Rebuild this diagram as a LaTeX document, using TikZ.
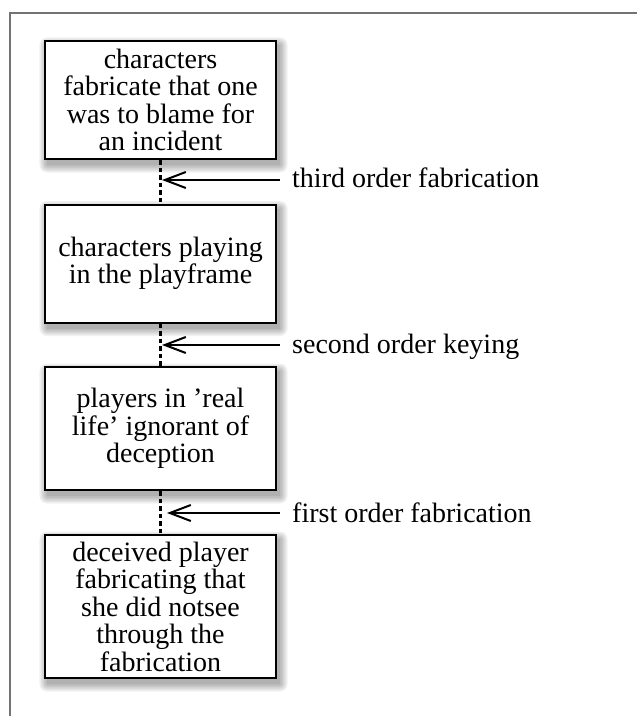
\documentclass[tikz,border=0pt]{standalone}
\usepackage{fontspec}
\setmainfont{Liberation Serif}
\usetikzlibrary{arrows.meta,backgrounds}
\begin{document}
\begin{tikzpicture}[x=1bp,y=-1bp,
  box/.style={draw=black, line width=2bp, fill=white, align=center, minimum width=231bp, inner sep=0pt, font=\fontsize{28bp}{27.5bp}\selectfont},
  lbl/.style={anchor=base west, inner xsep=12bp, inner ysep=0pt, font=\fontsize{28bp}{27.5bp}\selectfont},
  link/.style={line width=2.2bp, dash pattern=on 4.5bp off 3bp},
  pointer/.style={line width=2bp, -{Straight Barb[length=21bp,width=16bp,line width=2bp]}},
  frameline/.style={draw=black!55, line width=2bp}]
\useasboundingbox (0,0) rectangle (637,716);
\draw[frameline] (10,717) -- (10,13) -- (638,13);

\node[box, minimum height=118bp] (b1) at (160.5,100) {characters\\fabricate that one\\was to blame for\\an incident};
\node[box, minimum height=118bp] (b2) at (160.5,263.5) {characters playing\\in the playframe};
\node[box, minimum height=123bp] (b3) at (160.5,428.5) {players in ’real\\life’ ignorant of\\deception};
\node[box, minimum height=143bp] (b4) at (160.5,606.5) {deceived player\\fabricating that\\she did notsee\\through the\\fabrication};

\draw[link] (b1.south) -- (b2.north);
\draw[link] (b2.south) -- (b3.north);
\draw[link] (b3.south) -- (b4.north);

\coordinate (t3) at (162,180);
\coordinate (t2) at (162,345);
\coordinate (t1) at (167,513);
\node[lbl] (l3) at (280,187) {third order fabrication};
\node[lbl] (l2) at (280,353) {second order keying};
\node[lbl] (l1) at (280,522) {first order fabrication};
\draw[pointer] (l3.west |- t3) -- (t3);
\draw[pointer] (l2.west |- t2) -- (t2);
\draw[pointer] (l1.west |- t1) -- (t1);

\begin{scope}[on background layer]
\foreach \b in {b1,b2,b3,b4}{
  \foreach \e in {0,1.5,...,7.5}{
    \fill[black, opacity=0.06, rounded corners=\e bp]
      ([xshift={(3-\e)*1bp}, yshift={(-5+\e)*1bp}]\b.north west) rectangle
      ([xshift={(3+\e)*1bp}, yshift={(-5-\e)*1bp}]\b.south east);
  }
}
\end{scope}
\end{tikzpicture}
\end{document}
